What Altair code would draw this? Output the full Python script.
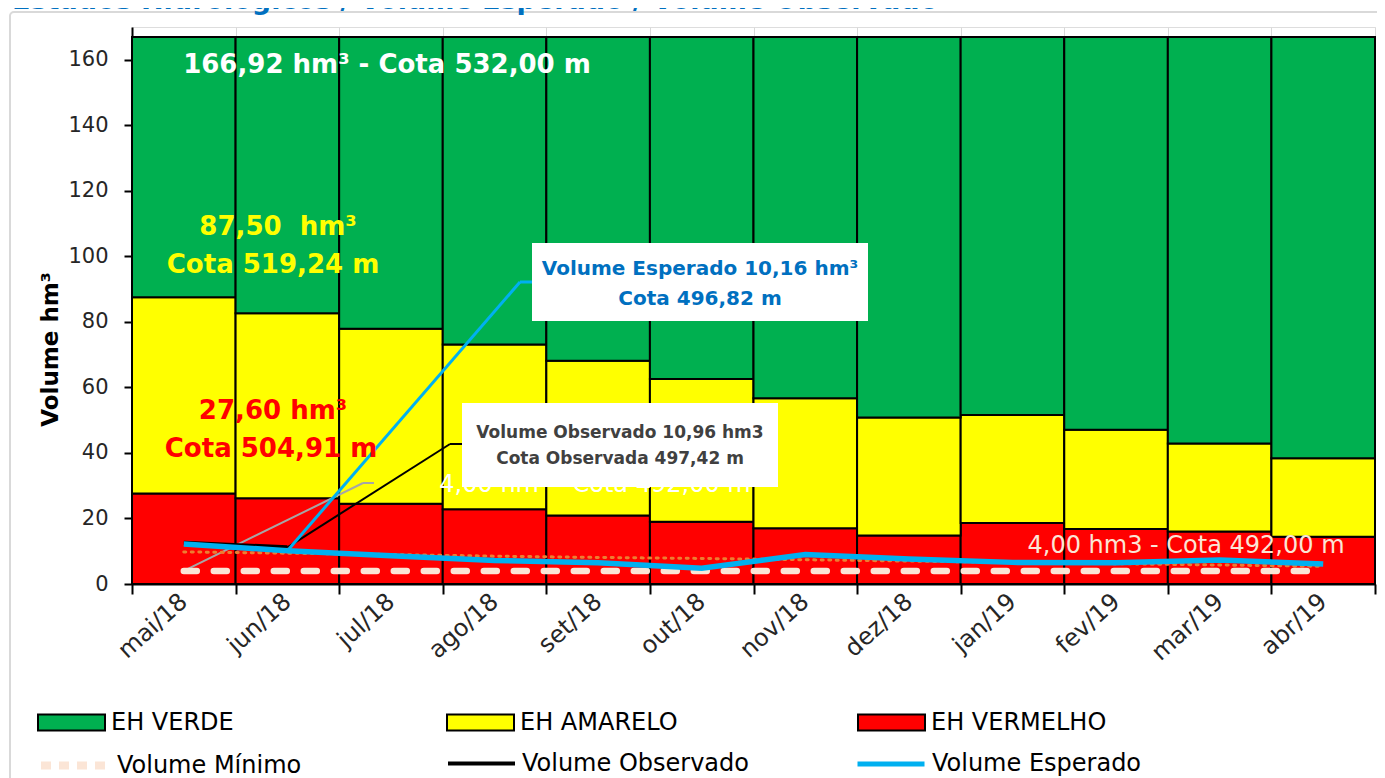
import altair as alt
import pandas as pd

# ---------------- data ----------------
meses = ["mai/18", "jun/18", "jul/18", "ago/18", "set/18", "out/18",
         "nov/18", "dez/18", "jan/19", "fev/19", "mar/19", "abr/19"]
eh_vermelho = [27.60, 26.2, 24.5, 22.8, 20.9, 19.0, 17.0, 14.8, 18.6, 16.8, 16.0, 14.4]
eh_amarelo = [87.50, 82.6, 77.9, 73.1, 68.1, 62.6, 56.7, 50.8, 51.6, 47.1, 42.9, 38.4]
eh_verde = [166.92, 166.92, 166.92, 166.92, 166.92, 166.92,
            166.92, 166.92, 166.92, 166.92, 166.92, 166.92]
volume_minimo = [4.0, 4.0, 4.0, 4.0, 4.0, 4.0, 4.0, 4.0, 4.0, 4.0, 4.0, 4.0]
volume_esperado = [12.2, 10.16, 8.6, 7.2, 6.5, 4.8, 9.0, 7.6, 6.6, 6.5, 7.3, 6.1]
volume_meta = [9.8, 9.4, 9.0, 8.5, 8.1, 7.8, 7.4, 7.0, 6.6, 6.2, 5.8, 5.4]
obs_meses = ["mai/18", "jun/18"]
volume_observado = [12.6, 11.2]

W, H = 1243, 557
FONT = "DejaVu Sans"

# ---------------- tables ----------------
zeros = [0.0] * len(meses)
df_verm = pd.DataFrame({"mes": meses, "base": zeros, "topo": eh_vermelho, "serie": "EH VERMELHO"})
df_amar = pd.DataFrame({"mes": meses, "base": eh_vermelho, "topo": eh_amarelo, "serie": "EH AMARELO"})
df_verd = pd.DataFrame({"mes": meses, "base": eh_amarelo, "topo": eh_verde, "serie": "EH VERDE"})
df_min = pd.DataFrame({"mes": meses, "valor": volume_minimo, "serie": "Volume Mínimo"})
df_esp = pd.DataFrame({"mes": meses, "valor": volume_esperado, "serie": "Volume Esperado"})
df_meta = pd.DataFrame({"mes": meses, "valor": volume_meta})
df_obs = pd.DataFrame({"mes": obs_meses, "valor": volume_observado, "serie": "Volume Observado"})

# ---------------- shared encodings ----------------
x_enc = alt.X(
    "mes:N", sort=meses, title=None,
    scale=alt.Scale(domain=meses, paddingInner=0, paddingOuter=0),
    axis=alt.Axis(tickBand="extent", grid=True, gridColor="#D9D9D9", gridWidth=1,
                  domainColor="black", domainWidth=2, tickColor="black", tickWidth=2,
                  tickSize=10, labelAngle=-42, labelAlign="right", labelBaseline="middle",
                  labelPadding=4, labelFont=FONT, labelFontSize=24, labelColor="#262626"),
)
y_scale = alt.Scale(domain=[0, 170], nice=False, zero=True)
y_axis = alt.Axis(values=[0, 20, 40, 60, 80, 100, 120, 140, 160], grid=False,
                  title="Volume hm³", titleFont=FONT, titleFontSize=23, titleFontWeight="bold",
                  titleColor="black", titleX=-82, titleY=322, titleAngle=-90,
                  titleAlign="center", titleBaseline="middle",
                  domainColor="black", domainWidth=2, tickColor="black", tickWidth=2,
                  tickSize=8, labelPadding=16, labelFont=FONT, labelFontSize=21,
                  labelColor="#262626")

RECT_PATH = "M-1,-0.24L1,-0.24L1,0.24L-1,0.24Z"


def leg(lx, ly, **kw):
    return alt.Legend(orient="none", legendX=lx, legendY=ly, title=None, padding=0,
                      labelFont=FONT, labelFontSize=24, labelColor="black", labelOffset=5,
                      labelLimit=500, symbolSize=4489, **kw)


def bar_layer(df, nome, cor, lx, ly):
    return alt.Chart(df).mark_bar(stroke="black", strokeWidth=2).encode(
        x=x_enc,
        y=alt.Y("base:Q", scale=y_scale, axis=y_axis),
        y2="topo:Q",
        fill=alt.Fill("serie:N", scale=alt.Scale(domain=[nome], range=[cor]),
                      legend=leg(lx, ly, symbolType=RECT_PATH, symbolStrokeColor="black",
                                 symbolStrokeWidth=2)),
    )


ROW1, ROW2 = 661, 701
bars = [
    bar_layer(df_verm, "EH VERMELHO", "#FF0000", 725, ROW1),
    bar_layer(df_amar, "EH AMARELO", "#FFFF00", 314, ROW1),
    bar_layer(df_verd, "EH VERDE", "#00B050", -95, ROW1),
]

one = alt.Data(values=[{"k": 1}])


def rule_px(x1, y1, x2, y2, cor, sw=1.5):
    return alt.Chart(one).mark_rule(color=cor, strokeWidth=sw).encode(
        x=alt.value(x1), y=alt.value(y1), x2=alt.value(x2), y2=alt.value(y2))


def leader(df, x2, y2, cor, sw=1.5):
    return alt.Chart(df).mark_rule(color=cor, strokeWidth=sw).encode(
        x=x_enc, y=alt.Y("valor:Q", scale=y_scale, axis=y_axis),
        x2=alt.value(x2), y2=alt.value(y2))


def txt(s, x, y, size, cor, weight="bold", align="center"):
    return alt.Chart(one).mark_text(text=s, font=FONT, fontSize=size, fontWeight=weight,
                                    color=cor, align=align, baseline="alphabetic").encode(
        x=alt.value(x), y=alt.value(y))


frame = alt.Chart(one).mark_rect(fillOpacity=0, stroke="#D9D9D9", strokeWidth=2,
                                 cornerRadius=4).encode(
    x=alt.value(-122), y=alt.value(-15), x2=alt.value(W + 8), y2=alt.value(H + 260))

titulo = txt("Estados Hidrológicos / Volume Esperado / Volume Observado",
             -120, -18, 27, "#0070C0", align="left")

# leader lines
df_esp_jun = df_esp[df_esp["mes"] == "jun/18"]
df_obs_jun = df_obs[df_obs["mes"] == "jun/18"]
df_min_mai = df_min[df_min["mes"] == "mai/18"]
leaders = [
    leader(df_min_mai, 231, 456, "#A6A6A6", 2),
    rule_px(231, 456, 242, 456, "#A6A6A6", 2),
    leader(df_obs_jun, 318, 417, "black", 2),
    rule_px(318, 417, 330, 417, "black", 2),
    leader(df_esp_jun, 388, 255, "#00B0F0", 3),
    rule_px(388, 255, 401, 255, "#00B0F0", 3),
]

meta_line = alt.Chart(df_meta).mark_line(color="#ED7D31", strokeWidth=3,
                                         strokeDash=[2, 5.5], strokeCap="round").encode(
    x=x_enc, y=alt.Y("valor:Q", scale=y_scale, axis=y_axis))

min_line = alt.Chart(df_min).mark_line(strokeWidth=6.5, strokeDash=[13, 17],
                                       strokeCap="round").encode(
    x=x_enc, y=alt.Y("valor:Q", scale=y_scale, axis=y_axis),
    stroke=alt.Stroke("serie:N", scale=alt.Scale(domain=["Volume Mínimo"], range=["#FBE5D6"]),
                      legend=leg(-95, ROW2, symbolType="stroke", symbolStrokeWidth=8,
                                 symbolDash=[10, 8])))

obs_line = alt.Chart(df_obs).mark_line(strokeWidth=4).encode(
    x=x_enc, y=alt.Y("valor:Q", scale=y_scale, axis=y_axis),
    stroke=alt.Stroke("serie:N", scale=alt.Scale(domain=["Volume Observado"], range=["black"]),
                      legend=leg(314, ROW2, symbolType="stroke", symbolStrokeWidth=4)))

esp_line = alt.Chart(df_esp).mark_line(strokeWidth=5.5).encode(
    x=x_enc, y=alt.Y("valor:Q", scale=y_scale, axis=y_axis),
    stroke=alt.Stroke("serie:N", scale=alt.Scale(domain=["Volume Esperado"], range=["#00B0F0"]),
                      legend=leg(723, ROW2, symbolType="stroke", symbolStrokeWidth=5)))

labels_in = [
    txt("166,92 hm³ - Cota 532,00 m", 255, 46, 26, "white"),
    txt("87,50 \u00a0hm³", 146, 208, 26, "#FFFF00"),
    txt("Cota 519,24 m", 141, 246, 26, "#FFFF00"),
    txt("27,60 hm³", 141, 392, 26, "#FF0000"),
    txt("Cota 504,91 m", 139, 430, 26, "#FF0000"),
    txt("4,00 hm3 - Cota 492,00 m", 1054, 526, 24, "#FBE5D6", weight="normal"),
    txt("4,00 hm³ - Cota 492,00 m", 463, 465, 24, "white", weight="normal"),
]

box_obs = alt.Chart(one).mark_rect(fill="white").encode(
    x=alt.value(330), x2=alt.value(646), y=alt.value(376), y2=alt.value(460))
box_esp = alt.Chart(one).mark_rect(fill="white").encode(
    x=alt.value(400), x2=alt.value(736), y=alt.value(216), y2=alt.value(294))

box_texts = [
    txt("Volume Observado 10,96 hm3", 488, 411, 17, "#404040"),
    txt("Cota Observada 497,42 m", 488, 437, 17, "#404040"),
    txt("Volume Esperado 10,16 hm³", 568, 248, 20, "#0070C0"),
    txt("Cota 496,82 m", 568, 278, 20, "#0070C0"),
]

layers = ([frame, titulo] + bars + leaders + [meta_line, min_line, obs_line, esp_line]
          + labels_in + [box_obs, box_esp] + box_texts)

chart = alt.layer(*layers).resolve_scale(fill="independent", stroke="independent").properties(
    width=W, height=H,
    autosize=alt.AutoSizeParams(type="none"),
    padding={"left": 124, "top": 19, "right": 2, "bottom": 194},
).configure_view(stroke=None).configure(background="white")

chart.save("out.html", embed_options={"renderer": "svg", "actions": False})
